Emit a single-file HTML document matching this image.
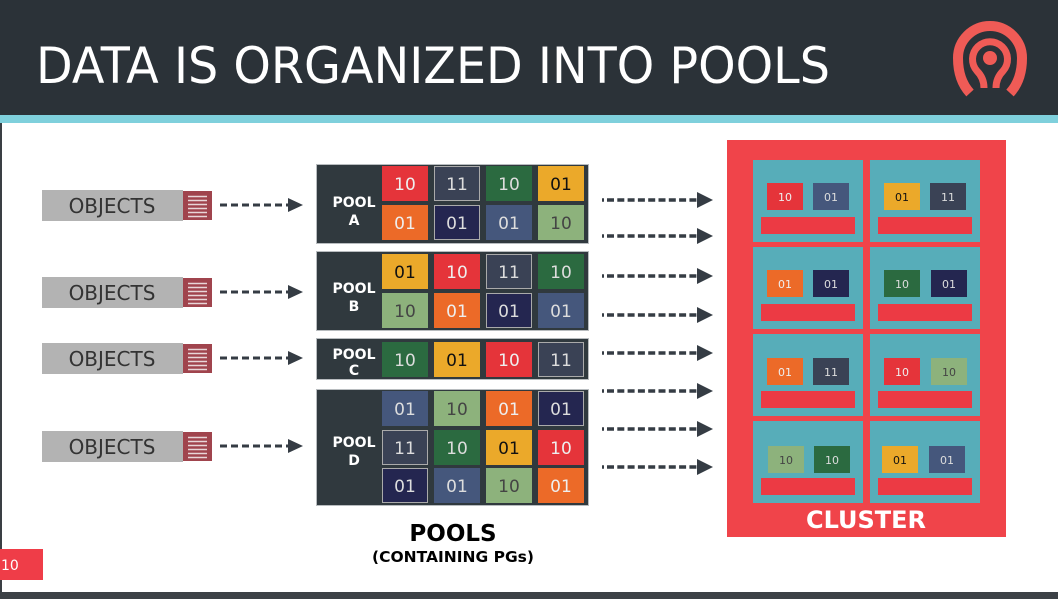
<!DOCTYPE html>
<html><head><meta charset="utf-8"><style>
html,body{margin:0;padding:0;background:#fff}
svg{display:block}
text{font-family:"DejaVu Sans","Liberation Sans",sans-serif}
</style></head><body>
<svg width="1058" height="599" viewBox="0 0 1058 599" xmlns="http://www.w3.org/2000/svg">
<rect x="0" y="0" width="1058" height="599" fill="#fff"/>
<rect x="0" y="0" width="1058" height="115" fill="#2b3238"/>
<rect x="0" y="115" width="1058" height="8" fill="#7fd0dc"/>
<rect x="0" y="123" width="2" height="476" fill="#3a3f44"/>
<rect x="0" y="592" width="1058" height="7" fill="#3c4146"/>
<text x="36" y="83" font-size="50" fill="#fff" textLength="794" lengthAdjust="spacingAndGlyphs">DATA IS ORGANIZED INTO POOLS</text>
<!-- logo -->
<g fill="none" stroke="#ef5b56" stroke-linecap="butt">
<path d="M970 93 Q958 80 958 58 A32 32 0 0 1 1022 58 Q1022 80 1010 93" stroke-width="10"/>
<path d="M984 88 Q984 78 977 71 A17.5 17.5 0 1 1 1003 71 Q996 78 996 88" stroke-width="7"/>
</g>
<circle cx="990" cy="58" r="7" fill="#ef5b56"/>

<!-- objects -->
<g font-size="20" fill="#333">
<rect x="42" y="190" width="141" height="31" fill="#b3b3b3"/><rect x="183" y="191" width="29" height="29" fill="#a0444d"/>
<text x="112" y="213" text-anchor="middle" fill="#333">OBJECTS</text>
<rect x="42" y="277" width="141" height="31" fill="#b3b3b3"/><rect x="183" y="278" width="29" height="29" fill="#a0444d"/>
<text x="112" y="300" text-anchor="middle" fill="#333">OBJECTS</text>
<rect x="42" y="343" width="141" height="31" fill="#b3b3b3"/><rect x="183" y="344" width="29" height="29" fill="#a0444d"/>
<text x="112" y="366" text-anchor="middle" fill="#333">OBJECTS</text>
<rect x="42" y="431" width="141" height="31" fill="#b3b3b3"/><rect x="183" y="432" width="29" height="29" fill="#a0444d"/>
<text x="112" y="454" text-anchor="middle" fill="#333">OBJECTS</text>
</g>
<g stroke="#e8d6d8" stroke-width="1.5">
<path d="M188 196.5h19M188 200.5h19M188 204.5h19M188 208.5h19M188 212.5h19M188 216.5h19"/>
<path d="M188 283.5h19M188 287.5h19M188 291.5h19M188 295.5h19M188 299.5h19M188 303.5h19"/>
<path d="M188 349.5h19M188 353.5h19M188 357.5h19M188 361.5h19M188 365.5h19M188 369.5h19"/>
<path d="M188 437.5h19M188 441.5h19M188 445.5h19M188 449.5h19M188 453.5h19M188 457.5h19"/>
</g>
<!-- left arrows -->
<g stroke="#353c44" stroke-width="3" stroke-dasharray="7,4">
<path d="M220 205h68M220 292h68M220 358h68M220 446h68"/>
</g>
<g fill="#353c44">
<path d="M288 198l15 7-15 7z"/><path d="M288 285l15 7-15 7z"/><path d="M288 351l15 7-15 7z"/><path d="M288 439l15 7-15 7z"/>
</g>

<!-- pools -->
<g fill="#30393e" stroke="#b8bcbf" stroke-width="1">
<rect x="316.5" y="164.5" width="272" height="79"/>
<rect x="316.5" y="251.5" width="272" height="79"/>
<rect x="316.5" y="338.5" width="272" height="41"/>
<rect x="316.5" y="389.5" width="272" height="116"/>
</g>
<g font-size="14" font-weight="bold" fill="#fff" text-anchor="middle">
<text x="354" y="207">POOL</text><text x="354" y="225">A</text>
<text x="354" y="293">POOL</text><text x="354" y="311">B</text>
<text x="354" y="359">POOL</text><text x="354" y="375">C</text>
<text x="354" y="447">POOL</text><text x="354" y="465">D</text>
</g>
<g font-size="17" text-anchor="middle">
<rect x="382" y="166" width="46" height="35" fill="#e5343a"/><text x="405" y="190" fill="#eee">10</text>
<rect x="434.5" y="166.5" width="45" height="34" fill="#3a4255" stroke="#aaa"/><text x="457" y="190" fill="#ddd">11</text>
<rect x="486" y="166" width="46" height="35" fill="#2b6a40"/><text x="509" y="190" fill="#ddd">10</text>
<rect x="538" y="166" width="46" height="35" fill="#eba92a"/><text x="561" y="190" fill="#111">01</text>
<rect x="382" y="205" width="46" height="35" fill="#ec6a28"/><text x="405" y="229" fill="#eee">01</text>
<rect x="434.5" y="205.5" width="45" height="34" fill="#242650" stroke="#aaa"/><text x="457" y="229" fill="#ddd">01</text>
<rect x="486" y="205" width="46" height="35" fill="#45577c"/><text x="509" y="229" fill="#ddd">01</text>
<rect x="538" y="205" width="46" height="35" fill="#8db27c"/><text x="561" y="229" fill="#444">10</text>
<rect x="382" y="254" width="46" height="35" fill="#eba92a"/><text x="405" y="278" fill="#111">01</text>
<rect x="434" y="254" width="46" height="35" fill="#e5343a"/><text x="457" y="278" fill="#eee">10</text>
<rect x="486.5" y="254.5" width="45" height="34" fill="#3a4255" stroke="#aaa"/><text x="509" y="278" fill="#ddd">11</text>
<rect x="538" y="254" width="46" height="35" fill="#2b6a40"/><text x="561" y="278" fill="#ddd">10</text>
<rect x="382" y="293" width="46" height="35" fill="#8db27c"/><text x="405" y="317" fill="#444">10</text>
<rect x="434" y="293" width="46" height="35" fill="#ec6a28"/><text x="457" y="317" fill="#eee">01</text>
<rect x="486.5" y="293.5" width="45" height="34" fill="#242650" stroke="#aaa"/><text x="509" y="317" fill="#ddd">01</text>
<rect x="538" y="293" width="46" height="35" fill="#45577c"/><text x="561" y="317" fill="#ddd">01</text>
<rect x="382" y="342" width="46" height="35" fill="#2b6a40"/><text x="405" y="366" fill="#ddd">10</text>
<rect x="434" y="342" width="46" height="35" fill="#eba92a"/><text x="457" y="366" fill="#111">01</text>
<rect x="486" y="342" width="46" height="35" fill="#e5343a"/><text x="509" y="366" fill="#eee">10</text>
<rect x="538.5" y="342.5" width="45" height="34" fill="#3a4255" stroke="#aaa"/><text x="561" y="366" fill="#ddd">11</text>
<rect x="382" y="391" width="46" height="35" fill="#45577c"/><text x="405" y="415" fill="#ddd">01</text>
<rect x="434" y="391" width="46" height="35" fill="#8db27c"/><text x="457" y="415" fill="#444">10</text>
<rect x="486" y="391" width="46" height="35" fill="#ec6a28"/><text x="509" y="415" fill="#eee">01</text>
<rect x="538.5" y="391.5" width="45" height="34" fill="#242650" stroke="#aaa"/><text x="561" y="415" fill="#ddd">01</text>
<rect x="382.5" y="430.5" width="45" height="34" fill="#3a4255" stroke="#aaa"/><text x="405" y="454" fill="#ddd">11</text>
<rect x="434" y="430" width="46" height="35" fill="#2b6a40"/><text x="457" y="454" fill="#ddd">10</text>
<rect x="486" y="430" width="46" height="35" fill="#eba92a"/><text x="509" y="454" fill="#111">01</text>
<rect x="538" y="430" width="46" height="35" fill="#e5343a"/><text x="561" y="454" fill="#eee">10</text>
<rect x="382.5" y="468.5" width="45" height="34" fill="#242650" stroke="#aaa"/><text x="405" y="492" fill="#ddd">01</text>
<rect x="434" y="468" width="46" height="35" fill="#45577c"/><text x="457" y="492" fill="#ddd">01</text>
<rect x="486" y="468" width="46" height="35" fill="#8db27c"/><text x="509" y="492" fill="#444">10</text>
<rect x="538" y="468" width="46" height="35" fill="#ec6a28"/><text x="561" y="492" fill="#eee">01</text>
</g>
<text x="453" y="541" font-size="23" font-weight="bold" text-anchor="middle" fill="#000">POOLS</text>
<text x="453" y="562" font-size="15.5" font-weight="bold" text-anchor="middle" fill="#000">(CONTAINING PGs)</text>
<rect x="0" y="549" width="43" height="31" fill="#ef3d48"/>
<text x="1" y="570" font-size="14" fill="#fff">10</text>

<!-- right arrows -->
<g stroke="#353c44" stroke-width="3.5">
<g stroke-dasharray="2,100"><path d="M602 200h96M602 236h96M602 276h96M602 315h96M602 353h96M602 391h96M602 429h96M602 467h96"/></g>
<g stroke-dasharray="7,3.3"><path d="M607 200h91M607 236h91M607 276h91M607 315h91M607 353h91M607 391h91M607 429h91M607 467h91"/></g>
</g>
<g fill="#353c44">
<path d="M697 192l16 8-16 8z"/><path d="M697 228l16 8-16 8z"/><path d="M697 268l16 8-16 8z"/><path d="M697 307l16 8-16 8z"/>
<path d="M697 345l16 8-16 8z"/><path d="M697 383l16 8-16 8z"/><path d="M697 421l16 8-16 8z"/><path d="M697 459l16 8-16 8z"/>
</g>

<!-- cluster -->
<rect x="727" y="140" width="279" height="397" fill="#f0444a"/>
<g fill="#57adb9">
<rect x="753" y="160" width="110" height="82"/><rect x="870" y="160" width="110" height="82"/>
<rect x="753" y="247" width="110" height="82"/><rect x="870" y="247" width="110" height="82"/>
<rect x="753" y="334" width="110" height="82"/><rect x="870" y="334" width="110" height="82"/>
<rect x="753" y="421" width="110" height="82"/><rect x="870" y="421" width="110" height="82"/>
</g>
<g fill="#ec3a44">
<rect x="761" y="217" width="94" height="17"/><rect x="878" y="217" width="94" height="17"/>
<rect x="761" y="304" width="94" height="17"/><rect x="878" y="304" width="94" height="17"/>
<rect x="761" y="391" width="94" height="17"/><rect x="878" y="391" width="94" height="17"/>
<rect x="761" y="478" width="94" height="17"/><rect x="878" y="478" width="94" height="17"/>
</g>
<g font-size="11" text-anchor="middle">
<rect x="767" y="183" width="36" height="27" fill="#e5343a"/><text x="785" y="201" fill="#eee">10</text>
<rect x="813" y="183" width="36" height="27" fill="#45577c"/><text x="831" y="201" fill="#ddd">01</text>
<rect x="884" y="183" width="36" height="27" fill="#eba92a"/><text x="902" y="201" fill="#111">01</text>
<rect x="930" y="183" width="36" height="27" fill="#3a4255"/><text x="948" y="201" fill="#ddd">11</text>
<rect x="767" y="270" width="36" height="27" fill="#ec6a28"/><text x="785" y="288" fill="#eee">01</text>
<rect x="813" y="270" width="36" height="27" fill="#242650"/><text x="831" y="288" fill="#ddd">01</text>
<rect x="884" y="270" width="36" height="27" fill="#2b6a40"/><text x="902" y="288" fill="#ddd">10</text>
<rect x="931" y="270" width="36" height="27" fill="#242650"/><text x="949" y="288" fill="#ddd">01</text>
<rect x="767" y="358" width="36" height="27" fill="#ec6a28"/><text x="785" y="376" fill="#eee">01</text>
<rect x="813" y="358" width="36" height="27" fill="#3a4255"/><text x="831" y="376" fill="#ddd">11</text>
<rect x="884" y="358" width="36" height="27" fill="#e5343a"/><text x="902" y="376" fill="#eee">10</text>
<rect x="931" y="358" width="36" height="27" fill="#8db27c"/><text x="949" y="376" fill="#444">10</text>
<rect x="768" y="446" width="36" height="27" fill="#8db27c"/><text x="786" y="464" fill="#444">10</text>
<rect x="814" y="446" width="36" height="27" fill="#2b6a40"/><text x="832" y="464" fill="#ddd">10</text>
<rect x="882" y="446" width="36" height="27" fill="#eba92a"/><text x="900" y="464" fill="#111">01</text>
<rect x="929" y="446" width="36" height="27" fill="#45577c"/><text x="947" y="464" fill="#ddd">01</text>
</g>
<text x="866" y="528" font-size="24" font-weight="bold" text-anchor="middle" fill="#fff">CLUSTER</text>
</svg>
</body></html>
